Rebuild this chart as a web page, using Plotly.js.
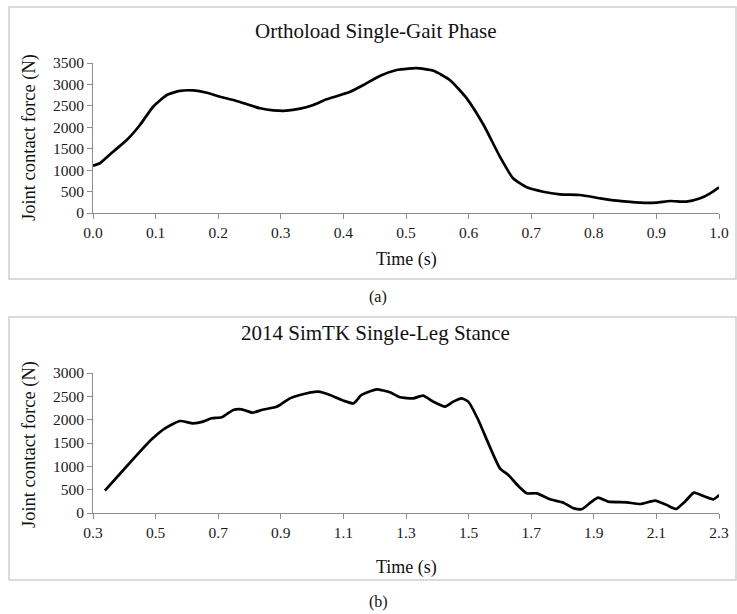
<!DOCTYPE html>
<html>
<head>
<meta charset="utf-8">
<script src="https://cdn.plot.ly/plotly-3.0.1.min.js"></script>
<style>
html,body{margin:0;padding:0;background:#fff;}
#chart{width:737px;height:614px;}
</style>
</head>
<body>
<div id="chart"></div>
<script>
// Panel (a): Orthoload single-gait phase
const gaitTime = [0.000,0.011,0.032,0.054,0.075,0.096,0.118,0.139,0.160,0.182,0.203,0.224,0.246,0.267,0.288,0.309,0.331,0.352,0.373,0.400,0.411,0.432,0.458,0.485,0.504,0.517,0.544,0.570,0.597,0.624,0.650,0.671,0.693,0.719,0.746,0.778,0.810,0.837,0.874,0.900,0.922,0.948,0.970,0.986,1.000];
const gaitForce = [1104,1160,1430,1703,2053,2480,2753,2850,2860,2807,2714,2637,2536,2443,2396,2387,2434,2520,2652,2776,2830,2986,3196,3336,3370,3380,3320,3103,2676,2053,1314,810,600,497,436,420,343,288,240,240,280,265,343,459,600];

// Panel (b): 2014 SimTK single-leg stance
const stanceTime = [0.338,0.397,0.450,0.4875,0.530,0.578,0.620,0.652,0.679,0.711,0.748,0.775,0.810,0.839,0.887,0.897,0.929,0.961,1.020,1.057,1.100,1.132,1.158,1.206,1.249,1.281,1.323,1.355,1.387,1.425,1.451,1.478,1.499,1.531,1.563,1.600,1.627,1.659,1.686,1.718,1.760,1.803,1.835,1.861,1.893,1.914,1.946,2.005,2.048,2.096,2.133,2.163,2.191,2.220,2.250,2.282,2.301];
const stanceForce = [478,921,1314,1579,1815,1971,1921,1957,2029,2050,2207,2221,2150,2207,2278,2314,2457,2529,2600,2529,2407,2350,2529,2650,2586,2479,2457,2514,2386,2279,2386,2457,2386,1993,1493,958,814,579,421,421,293,221,100,79,243,329,243,229,193,264,171,86,243,436,364,293,386];

const panelTitles = ["Orthoload Single-Gait Phase", "2014 SimTK Single-Leg Stance"];
const panelLabels = ["(a)", "(b)"];
const xTitle = "Time (s)";
const yTitle = "Joint contact force (N)";

const W = 737, H = 614;
const px = v => v / W;
const py = v => 1 - v / H;

const FONT = "Liberation Serif, Times New Roman, serif";
const AXC = "#8c8c8c";

const lineStyle = {color: "#000", width: 2.7, shape: "spline", smoothing: 0.5};

const traces = [
  {x: gaitTime, y: gaitForce, xaxis: "x", yaxis: "y", mode: "lines", line: lineStyle, hoverinfo: "skip"},
  {x: stanceTime, y: stanceForce, xaxis: "x2", yaxis: "y2", mode: "lines", line: lineStyle, hoverinfo: "skip"}
];

const axCommon = {
  showline: true, linecolor: AXC, linewidth: 1,
  ticks: "outside", ticklen: 5, tickcolor: AXC, tickwidth: 1,
  showgrid: false, zeroline: false,
  tickfont: {family: FONT, size: 15.5, color: "#1a1a1a"},
  fixedrange: true
};

const layout = {
  width: W, height: H,
  margin: {l: 0, r: 0, t: 0, b: 0},
  paper_bgcolor: "#fff", plot_bgcolor: "#fff",
  showlegend: false,
  xaxis: Object.assign({}, axCommon, {domain: [px(93), px(719)], range: [0, 1], tick0: 0, dtick: 0.1, tickformat: ".1f", anchor: "y"}),
  yaxis: Object.assign({}, axCommon, {domain: [py(213), py(63)], range: [0, 3500], dtick: 500, anchor: "x"}),
  xaxis2: Object.assign({}, axCommon, {domain: [px(93), px(719)], range: [0.3, 2.3], tick0: 0.3, dtick: 0.2, tickformat: ".1f", anchor: "y2"}),
  yaxis2: Object.assign({}, axCommon, {domain: [py(513), py(373)], range: [0, 3000], dtick: 500, anchor: "x2"}),
  shapes: [
    {type: "rect", xref: "paper", yref: "paper", x0: px(9), x1: px(736), y0: py(279), y1: py(7), line: {color: "#cfcfcf", width: 1.5}},
    {type: "rect", xref: "paper", yref: "paper", x0: px(9), x1: px(736), y0: py(580), y1: py(317), line: {color: "#cfcfcf", width: 1.5}}
  ],
  annotations: [
    {text: panelTitles[0], xref: "paper", yref: "paper", x: px(375), y: py(31), xanchor: "center", yanchor: "middle", showarrow: false, font: {family: FONT, size: 21, color: "#111"}},
    {text: panelTitles[1], xref: "paper", yref: "paper", x: px(375), y: py(333), xanchor: "center", yanchor: "middle", showarrow: false, font: {family: FONT, size: 21, color: "#111"}},
    {text: xTitle, xref: "paper", yref: "paper", x: px(406), y: py(259), xanchor: "center", yanchor: "middle", showarrow: false, font: {family: FONT, size: 18, color: "#111"}},
    {text: xTitle, xref: "paper", yref: "paper", x: px(406), y: py(567), xanchor: "center", yanchor: "middle", showarrow: false, font: {family: FONT, size: 18, color: "#111"}},
    {text: yTitle, xref: "paper", yref: "paper", x: px(29), y: py(138), xanchor: "center", yanchor: "middle", textangle: -90, showarrow: false, font: {family: FONT, size: 18.5, color: "#111"}},
    {text: yTitle, xref: "paper", yref: "paper", x: px(29), y: py(445), xanchor: "center", yanchor: "middle", textangle: -90, showarrow: false, font: {family: FONT, size: 18.5, color: "#111"}},
    {text: panelLabels[0], xref: "paper", yref: "paper", x: px(378), y: py(297), xanchor: "center", yanchor: "middle", showarrow: false, font: {family: FONT, size: 16, color: "#111"}},
    {text: panelLabels[1], xref: "paper", yref: "paper", x: px(378), y: py(602), xanchor: "center", yanchor: "middle", showarrow: false, font: {family: FONT, size: 16, color: "#111"}}
  ]
};

Plotly.newPlot("chart", traces, layout, {staticPlot: true, displayModeBar: false});
</script>
</body>
</html>
